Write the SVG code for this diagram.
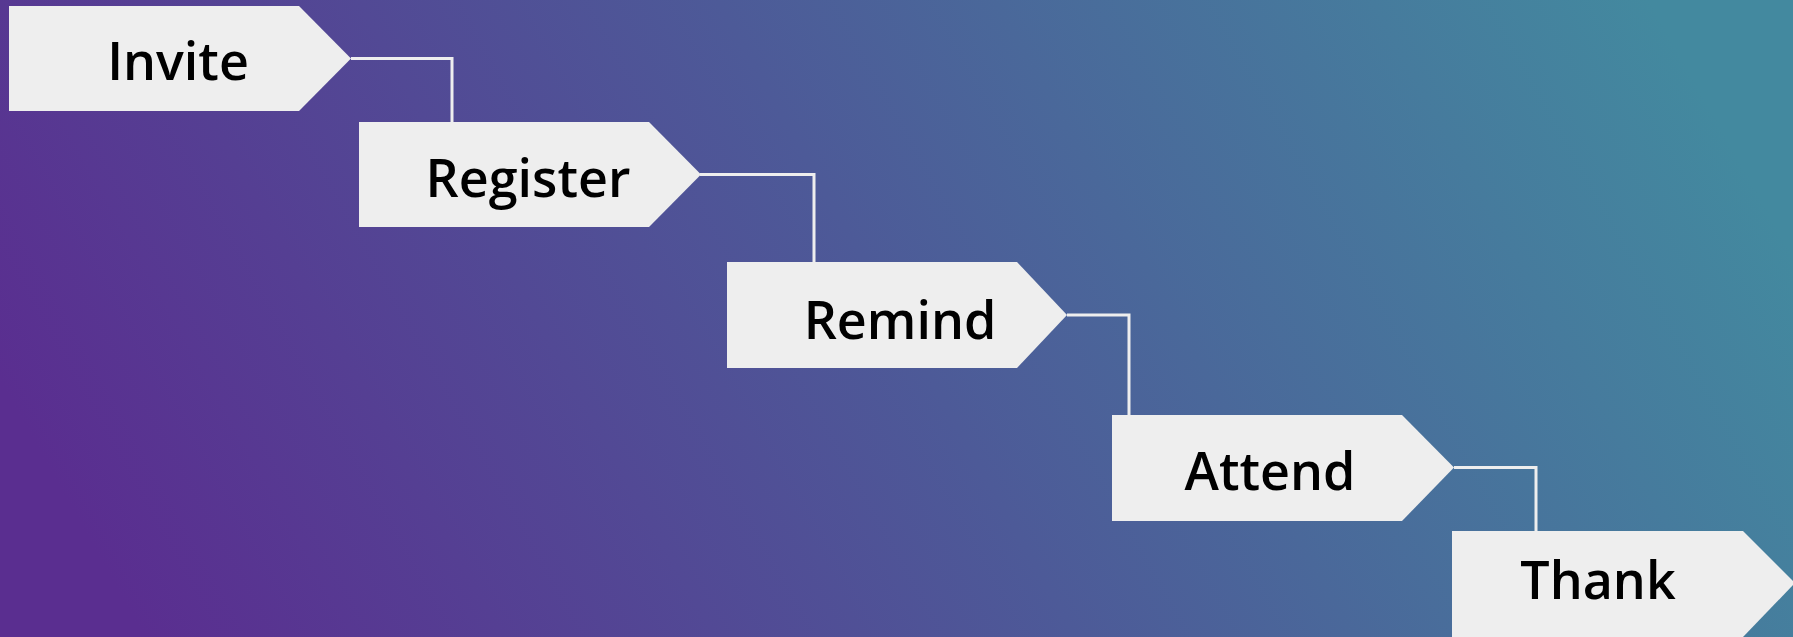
<svg xmlns="http://www.w3.org/2000/svg" width="1793" height="637" viewBox="0 0 1793 637">
  <defs>
    <linearGradient id="bg" x1="0" y1="0.6" x2="1" y2="0.4">
      <stop offset="0" stop-color="#5a2e90"/>
      <stop offset="0.5" stop-color="#4d5a98"/>
      <stop offset="1" stop-color="#43899f"/>
    </linearGradient>
    <style>
      .box { fill: #eeeeee; }
      .lbl { font-family: "Open Sans", "Noto Sans", "Liberation Sans", sans-serif; font-size: 52px; font-weight: 600; fill: #000000; text-anchor: middle; }
      .conn { fill: none; stroke: #eeeeee; stroke-width: 3; stroke-linejoin: miter; }
    </style>
  </defs>
  <rect x="0" y="0" width="1793" height="637" fill="url(#bg)"/>
  <g id="connectors">
    <polyline class="conn" points="351,58.5 452,58.5 452,122"/>
    <polyline class="conn" points="700,174.5 814,174.5 814,262"/>
    <polyline class="conn" points="1067,315 1129,315 1129,415"/>
    <polyline class="conn" points="1454,467.5 1536,467.5 1536,531"/>
  </g>
  <g id="invite">
    <polygon class="box" points="9,6 299,6 351,58.5 299,111 9,111"/>
    <text class="lbl" x="178" y="80">Invite</text>
  </g>
  <g id="register">
    <polygon class="box" points="359,122 649,122 701,174.5 649,227 359,227"/>
    <text class="lbl" x="528" y="197">Register</text>
  </g>
  <g id="remind">
    <polygon class="box" points="727,262 1017,262 1067,315 1017,368 727,368"/>
    <text class="lbl" x="900" y="339">Remind</text>
  </g>
  <g id="attend">
    <polygon class="box" points="1112,415 1402,415 1454,467.5 1402,521 1112,521"/>
    <text class="lbl" x="1270" y="490">Attend</text>
  </g>
  <g id="thank">
    <polygon class="box" points="1452,531 1743,531 1795,583 1743,637 1452,637"/>
    <text class="lbl" x="1598" y="599">Thank</text>
  </g>
</svg>
